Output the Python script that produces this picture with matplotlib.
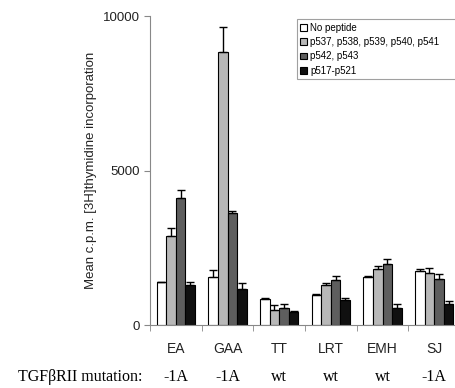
import matplotlib.pyplot as plt
import numpy as np

categories = ["EA", "GAA", "TT", "LRT", "EMH", "SJ"]
mutations = ["-1A", "-1A", "wt", "wt", "wt", "-1A"]
series_names = ["No peptide", "p537, p538, p539, p540, p541", "p542, p543", "p517-p521"]

no_peptide = [1400, 1560, 840, 980, 1560, 1750]
p537_541 = [2880, 8820, 500, 1310, 1800, 1670]
p542_543 = [4120, 3630, 540, 1470, 1960, 1500]
p517_521 = [1310, 1170, 410, 800, 540, 670]

no_peptide_err = [0, 220, 30, 20, 30, 60]
p537_541_err = [270, 830, 140, 40, 110, 190]
p542_543_err = [240, 60, 140, 110, 180, 140]
p517_521_err = [90, 190, 40, 60, 130, 110]

values = [no_peptide, p537_541, p542_543, p517_521]
errors = [no_peptide_err, p537_541_err, p542_543_err, p517_521_err]
colors = ["white", "#b8b8b8", "#5e5e5e", "#101010"]

plt.rcParams['font.family'] = ['Liberation Sans', 'DejaVu Sans']

fig = plt.figure(figsize=(4.55, 3.88), dpi=100)
ax = fig.add_axes([150 / 455, 63 / 388, 310 / 455, 309 / 388])

x = np.arange(len(categories))
width = 0.185
for i, (vals, errs, col, name) in enumerate(zip(values, errors, colors, series_names)):
    pos = x + (i - 1.5) * width
    ax.bar(pos, vals, width, color=col, edgecolor="black", linewidth=0.8, label=name)
    errs = np.array(errs)
    ax.errorbar(pos, vals, yerr=[np.zeros_like(errs), errs], fmt="none",
                ecolor="black", elinewidth=1.0, capsize=3, capthick=1.0)

ax.set_xlim(-0.5, len(categories) - 0.5)
ax.set_ylim(0, 10000)
ax.set_yticks([0, 5000, 10000])
ax.set_xticks(x)
ax.set_xticklabels(categories, fontsize=10, color="#222222")
ax.set_xticks(np.arange(len(categories) + 1) - 0.5, minor=True)
ax.tick_params(axis="x", which="major", length=0, pad=12)
ax.tick_params(axis="x", which="minor", length=4, color="#888888")
ax.tick_params(axis="y", labelsize=9.5, labelcolor="#222222", color="#888888", length=4)
for s in ["top", "right"]:
    ax.spines[s].set_visible(False)
for s in ["left", "bottom"]:
    ax.spines[s].set_color("#888888")

ax.set_ylabel("Mean c.p.m. [3H]thymidine incorporation", fontsize=9.5, labelpad=4, color="#222222")

leg = ax.legend(loc="upper left", bbox_to_anchor=(142 / 310, 1.005, 178 / 310, 0.0),
                mode="expand", fontsize=7,
                frameon=True, fancybox=False, edgecolor="#888888",
                handlelength=0.7, handleheight=0.7, handletextpad=0.3,
                borderpad=0.35, labelspacing=0.45)
leg.get_frame().set_linewidth(0.8)

serif = ["Liberation Serif", "DejaVu Serif"]
fig.text(18 / 455, 1 - 377 / 388, "TGF\u03b2RII mutation:", fontsize=11.5,
         family=serif, va="center")
for xi, m in zip(x, mutations):
    ax.text(xi, -(377 - 325) / 309, m, transform=ax.get_xaxis_transform(), fontsize=11.5,
            family=serif, ha="center", va="center")

fig.savefig("out.png", dpi=100)
